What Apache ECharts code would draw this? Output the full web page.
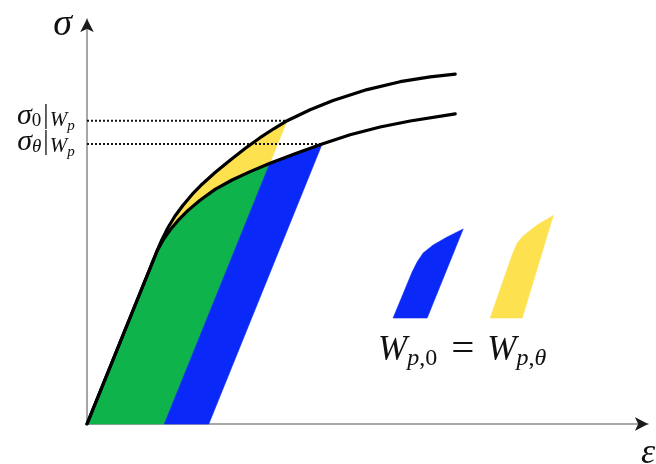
<!DOCTYPE html>
<html>
<head>
<meta charset="utf-8">
<script src="https://cdn.jsdelivr.net/npm/echarts@6/dist/echarts.min.js"></script>
<style>
  html, body { margin: 0; padding: 0; background: #ffffff; }
  #chart { width: 656px; height: 464px; }
</style>
</head>
<body>
<div id="chart"></div>
<script>
// Stress–strain sketch: two hardening curves (σ0 and σθ) whose plastic work areas are equal.

const strainMax = 101.4;
const stressMax = 100;

// elastic branch shared by both curves: origin -> yield point
const elasticLine = [[0, 0], [12.66, 42.72]];

// hardening branch of the σ0 curve (after yield)
const sigma0Curve = [
  [13.56, 45.56], [14.65, 48.52], [15.91, 51.36], [17.36, 54.02], [18.99, 56.69],
  [20.80, 59.21], [23.15, 62.10], [25.86, 65.14], [28.57, 68.02], [31.28, 70.69],
  [33.82, 72.96], [36.17, 74.89], [40.33, 77.60], [44.48, 79.88], [50.63, 82.57],
  [56.60, 84.52], [62.03, 85.70], [66.55, 86.37]
];

// hardening branch of the σθ curve (after yield)
const sigmaThetaCurve = [
  [13.74, 45.38], [15.01, 47.90], [16.46, 50.27], [18.26, 52.74], [20.43, 55.26],
  [23.15, 57.93], [26.22, 60.25], [29.48, 62.32], [33.09, 64.40], [37.61, 66.74],
  [42.50, 69.14], [47.56, 71.41], [52.98, 73.33], [58.41, 74.81], [66.55, 76.59]
];

// stress levels reached at the same plastic work Wp
const sigma0AtWp = [36.17, 74.89];
const sigmaThetaAtWp = [42.50, 69.14];
const levelNames = ['{s|σ}{n|0}{b||}{w|W}{p|p}', '{s|σ}{t|θ}{b||}{w|W}{p|p}'];

// elastic unloading lines end on the strain axis
const unloadFoot0 = [13.97, 0];
const unloadFootTheta = [22.01, 0];
// where the σ0 unloading line crosses the σθ curve
const unloadCrossing = [33.05, 64.38];

// small swatches beside the equation
const blueSwatch = [
  [55.33, 26.17], [58.77, 37.53], [59.67, 40.00], [60.76, 42.22], [62.57, 44.20],
  [65.10, 46.17], [67.99, 48.15], [61.48, 26.17]
];
const yellowSwatch = [
  [72.88, 26.17], [76.85, 41.73], [77.76, 44.69], [78.84, 46.42], [81.37, 49.14],
  [84.27, 51.48], [78.66, 26.17]
];

const GREEN = '#0fb34b';
const BLUE = '#0a28f7';
const YELLOW = '#fde14f';
const INK = '#111111';
const AXIS_GREY = '#8a8a8a';
const MATH_FONT = '"Liberation Serif", "DejaVu Serif", serif';

const yieldPt = elasticLine[1];
const lowerBefore = sigmaThetaCurve.filter(p => p[0] < unloadCrossing[0]);
const upperBefore = sigma0Curve.filter(p => p[0] < sigma0AtWp[0]);
const lowerBetween = sigmaThetaCurve.filter(p => p[0] > unloadCrossing[0] + 0.1 && p[0] < sigmaThetaAtWp[0]);

// green: work under σθ up to the σ0 unloading line
const greenArea = [[0, 0], yieldPt, ...lowerBefore, unloadCrossing, unloadFoot0];
// yellow: band between the two curves, up to σ0|Wp
const yellowArea = [yieldPt, ...upperBefore, sigma0AtWp, unloadCrossing, ...lowerBefore.slice().reverse()];
// blue: strip between the two unloading lines under σθ
const blueArea = [unloadFoot0, unloadCrossing, ...lowerBetween, sigmaThetaAtWp, unloadFootTheta];

function areaSeries(name, points, color) {
  return {
    type: 'custom',
    name: name,
    coordinateSystem: 'cartesian2d',
    silent: true,
    clip: false,
    z: 1,
    data: points,
    renderItem: function (params, api) {
      if (params.dataIndex !== 0) return null;
      return {
        type: 'polygon',
        shape: { points: points.map(p => api.coord(p)) },
        style: { fill: color, stroke: color, lineWidth: 0.6 }
      };
    }
  };
}

function curveSeries(name, points) {
  return {
    type: 'line',
    name: name,
    data: points,
    symbol: 'none',
    silent: true,
    z: 5,
    lineStyle: { color: '#000', width: 3.2, join: 'round', cap: 'round' }
  };
}

function levelSeries(name, point) {
  return {
    type: 'line',
    name: name,
    data: [[0, point[1]], point],
    symbol: 'none',
    silent: true,
    z: 4,
    lineStyle: { color: INK, width: 2, type: [2, 2] }
  };
}

const levelRich = {
  s: { fontFamily: MATH_FONT, fontStyle: 'italic', fontSize: 30, color: INK },
  n: { fontFamily: MATH_FONT, fontSize: 19, color: INK, padding: [10, 0, 0, 0] },
  t: { fontFamily: MATH_FONT, fontStyle: 'italic', fontSize: 19, color: INK, padding: [10, 0, 0, 0] },
  b: { fontFamily: MATH_FONT, fontSize: 27, color: INK, padding: [0, 1, 0, 2] },
  w: { fontFamily: MATH_FONT, fontStyle: 'italic', fontSize: 21, color: INK, padding: [10, 0, 0, 0] },
  p: { fontFamily: MATH_FONT, fontStyle: 'italic', fontSize: 15, color: INK, padding: [20, 0, 0, 0] }
};

const levelLabelOffsets = [[0, -5], [0, -2]];

const chart = echarts.init(document.getElementById('chart'), null, { renderer: 'canvas' });

const axisArrow = { show: true, lineStyle: { color: AXIS_GREY, width: 1.5 }, symbol: ['none', 'arrow'], symbolSize: [10, 13] };

chart.setOption({
  animation: false,
  backgroundColor: '#ffffff',
  grid: { left: 87, right: 8, top: 19, bottom: 40, outerBoundsMode: 'none', containLabel: false },
  xAxis: {
    type: 'value',
    min: 0,
    max: strainMax,
    name: 'ε',
    nameLocation: 'end',
    nameGap: 0,
    nameTextStyle: {
      fontFamily: MATH_FONT, fontStyle: 'italic', fontSize: 36, color: INK,
      align: 'center', verticalAlign: 'top', padding: [12, 0, 0, 0]
    },
    axisLine: axisArrow,
    axisTick: { show: false },
    axisLabel: { show: false },
    splitLine: { show: false }
  },
  yAxis: {
    type: 'value',
    min: 0,
    max: stressMax,
    name: 'σ',
    nameLocation: 'end',
    nameGap: -6,
    nameTextStyle: {
      fontFamily: MATH_FONT, fontStyle: 'italic', fontSize: 38, color: INK,
      align: 'right', verticalAlign: 'middle', padding: [0, 15, 0, 0]
    },
    axisLine: axisArrow,
    axisTick: { show: false },
    axisLabel: { show: false },
    splitLine: { show: false }
  },
  graphic: [
    {
      type: 'text',
      left: 378,
      top: 330,
      silent: true,
      style: {
        text: '{W|W}{p|p}{c|,0}{e|=}{W|W}{p|p}{c|,}{p|θ}',
        rich: {
          W: { fontFamily: MATH_FONT, fontStyle: 'italic', fontSize: 35, fill: INK },
          p: { fontFamily: MATH_FONT, fontStyle: 'italic', fontSize: 24, fill: INK, padding: [16, 0, 0, 0] },
          c: { fontFamily: MATH_FONT, fontSize: 24, fill: INK, padding: [16, 0, 0, 0] },
          e: { fontFamily: MATH_FONT, fontSize: 41, fill: INK, padding: [0, 13, 0, 14] }
        }
      }
    }
  ],
  series: [
    areaSeries('green area', greenArea, GREEN),
    areaSeries('yellow area', yellowArea, YELLOW),
    areaSeries('blue area', blueArea, BLUE),
    areaSeries('blue swatch', blueSwatch, BLUE),
    areaSeries('yellow swatch', yellowSwatch, YELLOW),
    levelSeries('σ0 level', sigma0AtWp),
    levelSeries('σθ level', sigmaThetaAtWp),
    curveSeries('σ0 curve', [...elasticLine, ...sigma0Curve]),
    curveSeries('σθ curve', [...elasticLine, ...sigmaThetaCurve]),
    {
      type: 'scatter',
      name: 'level labels',
      silent: true,
      clip: false,
      z: 6,
      symbol: 'circle',
      symbolSize: 0.5,
      itemStyle: { color: INK, opacity: 1 },
      data: [sigma0AtWp, sigmaThetaAtWp].map((p, i) => ({
        value: [0, p[1]],
        label: {
          show: true,
          position: 'left',
          distance: 12,
          color: INK,
          opacity: 1,
          offset: levelLabelOffsets[i],
          formatter: levelNames[i],
          rich: levelRich
        }
      }))
    },
    {
      type: 'scatter',
      name: 'axis arrows',
      silent: true,
      clip: false,
      z: 6,
      symbol: 'arrow',
      symbolSize: [10, 13],
      itemStyle: { color: '#000' },
      data: [
        { value: [0, stressMax], symbolRotate: 0 },
        { value: [strainMax, 0], symbolRotate: -90 }
      ]
    }
  ]
});
</script>
</body>
</html>
